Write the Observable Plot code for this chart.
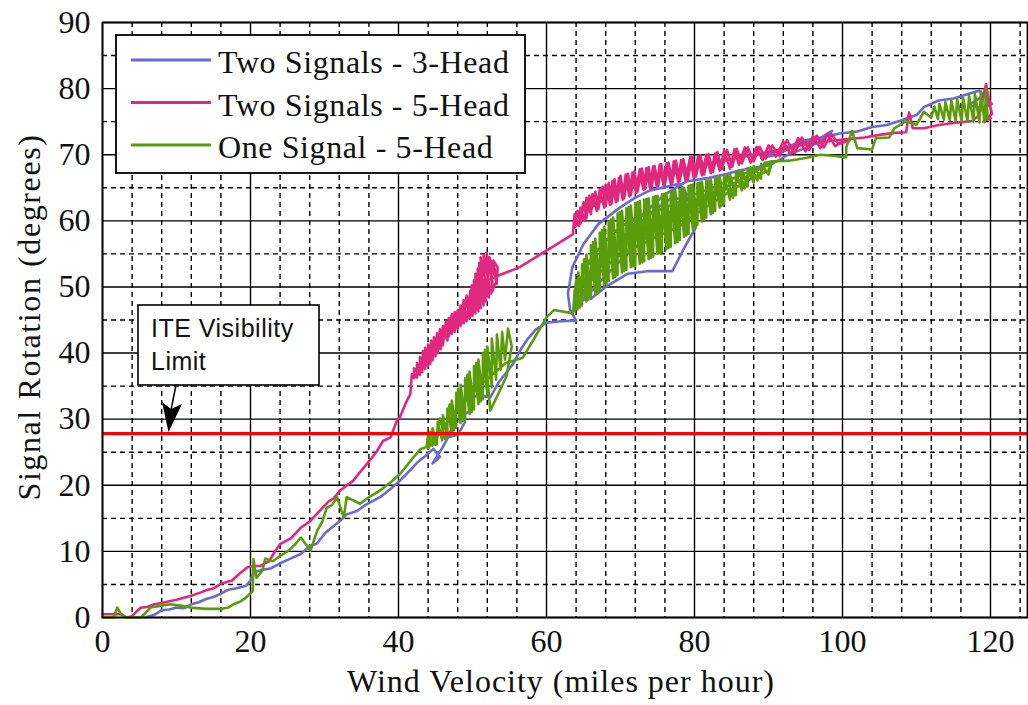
<!DOCTYPE html>
<html><head><meta charset="utf-8">
<script src="https://cdn.jsdelivr.net/npm/d3@7"></script>
<script src="https://cdn.jsdelivr.net/npm/@observablehq/plot@0.6"></script>
<style>body{margin:0;background:#fff;} #chart svg{display:block;}</style>
</head><body><div id="chart"></div>
<script>
const xMajor = [0,20,40,60,80,100,120];
const xMinor = [4,8,12,16,24,28,32,36,44,48,52,56,64,68,72,76,84,88,92,96,104,108,112,116,124];
const yMajor = [0,10,20,30,40,50,60,70,80,90];
const yMinor = [5,15,25,35,45,55,65,75,85];
const visibilityLimit = 27.8;
const seriesNames = ["Two Signals - 3-Head","Two Signals - 5-Head","One Signal - 5-Head"];
const seriesColors = ["#6a6ad2","#e0287f","#5a9c0a"];

const blue = [
[5.8,0],[7,0.4],[8,1.1],[9,1.2],[10,1.5],[11,1.4],[12,2],[13,2.3],[14,2.8],[15,3.1],[16,3.6],[17,4.2],[18,4.4],[19.4,4.8],[20,5.6],[20.4,6.8],[21.5,7.2],[22.7,7.4],[24,8.2],[25.4,8.9],[26.8,9.6],[28,10.8],[29,11.2],[29.4,11.8],[30.2,12.9],[31,13.6],[32.1,14.6],[33,15.6],[34.4,16.1],[35.5,17],[36.5,17.6],[37.5,18.2],[39,19.5],[40.2,20.7],[41.5,22.2],[42.5,23.4],[43.5,24.3],[44.7,25.5],[45.6,24.3],[44.6,23.3],[46,25.8],[47.4,28.7],[46.3,27.2],[48,27.6],[49,29.6],[48.2,30.4],[50,31.4],[49.4,33.2],[51,33.6],[52.4,33.3],[53.5,35.5],[55.5,38.4],[56.5,40.5],[57.3,41.9],[58.5,43.5],[60,44.6],[62,44.8],[64,44.9],
[63.2,46.5],[62.9,49],[63.5,53],[65,56.5],[67,59.5],[69.9,62],[72,63.5],[74,64.6],[76,65.1],[78,65.6],[79,64],[77,61],[74,58],[70,54],[67,50.5],[65,48],[66,51.2],[69,55.3],[72,59],[75,62],[77,63.5],[79.5,63],[80.2,59],[78.9,56.5],[77,52.4],[73.9,52.4],[71,52],[68,50],[66,48.2],[65.2,49.5],[67,53],[70,57],[73,61],[76,64],[79,66],[82,66.5],[84.3,67.1],[86,67.6],[88,68],[90.5,68.6],[92.8,70.1],[95,71],[97,72],[98.6,73.6],[97,72.5],[94,71.5],[91,70],[89,69.5],[92,71],[95,72.2],[98,72.8],[99.6,73.2],[102,73.5],[104,74.2],[106,74.5],[108,75.2],[110,76],[111,77.2],[113,78.2],[115,78.5],[117,79.2],[118.5,79.7],[119.5,78.5],[120.2,77.7],[119,77],[117,77.5],[119.5,79.2]
];

const pink = [
[0,0.5],[1.5,0.5],[2.6,0.5],[3.2,0],[4,0.2],[4.6,0.9],[5.2,1.5],[6,1.6],[7,2],[8,2.2],[9.2,2.5],[10,2.7],[11,3],[12,3.3],[13.3,3.8],[14.2,4.2],[15,4.4],[16,5.1],[17.5,5.6],[18.7,6.8],[19.6,7.6],[20.5,7.8],[21.3,7.8],[22.5,8.5],[23.2,9.8],[24,11.1],[25.5,12],[26.8,13.6],[28,14.5],[29,15.7],[30.5,17.5],[31.2,18],[32.1,19.2],[33.9,20.7],[34.8,22],[35.7,23.2],[37,25],[37.9,26.7],[38.9,27.2],[39.8,29.8],[40.2,30.3],[41,32.5],[41.6,33.8],
[41.8,36.8],[42.5,36.3],[42.5,38.5],[43.2,37.1],[43.3,40.3],[44,38],[44,41.3],[44.6,38.9],[44.8,42.4],[45.3,40],[45.6,43.6],[46,41.2],[46.4,44.7],[46.8,42.5],[47.2,45.9],[47.6,43.2],[48,46.5],[48.4,44.1],[48.8,48],[49.2,44.8],[49.7,49.4],[50,45.6],[50.2,51],[50.8,46.3],[50.7,52.8],[51.5,47.2],[51.1,54.5],[52.2,48.4],[51.9,55.2],[52.8,49.5],[52.3,54.5],[53.3,50.5],[52.8,54],[53.4,53],[53.3,51],
[52.5,49],[51.5,54.8],[51.8,47.8],[50.9,53.6],[51.1,46.8],[50.4,52],[50.4,46],[49.9,50.2],[49.6,45.2],[49.2,48.7],[48.8,44.5],[48.4,47.2],[48,43.7],[47.6,46.2],[47.2,42.9],[46.8,45.3],[46.6,41.9],[46,44.1],[45.7,40.6],[45.2,43],[45,39.5],[44.4,41.9],[44.3,38.4],[43.6,40.8],[43.6,37.6],[42.9,39.4],[42.9,36.7],[42.1,37.7],[42.1,36.2],
[44,39.5],[46,42.8],[48,45.5],[50,48.3],[51.5,51],[53,51.5],
[56.4,53],[60,55.5],[63.6,58],
[63.6,58.5],[63.8,61],[64.4,59.2],[64.6,62],[65.2,60],[65.4,63.5],[66,61],[66.2,64],[66.8,61.5],[67.2,64.7],[67.8,62],[68,65.5],[68.6,62.4],[68.9,66],[69.4,62.8],[69.8,66.5],[70.3,63.2],[70.7,67],[71.2,63.7],[71.6,67.3],[72.1,64.2],[72.6,67.8],[73.1,64.7],[73.5,68],[74,64.9],[74.4,68.2],[74.9,65.2],[75.3,68.5],[75.8,65.4],[76.2,68.7],[76.8,65.6],[77.2,69],[77.8,65.9],[78.2,69.2],[78.8,66.1],[79.4,69.6],[79.9,66.5],[80.5,69.8],[81,66.9],[81.6,70],[82.2,67.2],[82.8,70.2],[83.4,67.6],[84,70.6],[84.8,67.9],[85.4,70.8],[86,68.5],[86.8,71.1],[87.6,68.8],[88.4,71.2],[89.2,69.2],[90,71.4],[91,69.7],[92,72],[93,70],[94,72.5],[95,70.5],[96,72.8],[97,71],[98,73.2],[99,71.3],[100,72],[101,72.2],
[99.5,71.6],[98.5,73.1],[97.5,71.1],[96.5,72.9],[95.5,70.7],[94.5,72.6],[93.5,70.2],[92.5,72.2],[91.5,69.8],[90.5,71.4],[89.6,69.4],[88.8,71.2],[88,69],[87.2,71.1],[86.4,68.7],[85.7,70.9],[85.1,68.2],[84.4,70.7],[83.7,67.8],[83.1,70.4],[82.5,67.4],[81.9,70.1],[81.3,67],[80.8,69.9],[80.2,66.7],[79.7,69.7],[79.1,66.3],[78.5,69.3],[78,66],[77.5,69.1],[77,65.7],[76.5,68.8],[76,65.5],[75.5,68.6],[75.1,65.3],[74.6,68.3],[74.2,65],[73.8,68.1],[73.3,64.8],[72.9,67.9],[72.3,64.4],[71.9,67.5],[71.4,63.9],[71,67.1],[70.5,63.4],[70,66.8],[69.6,63],[69.2,66.3],[68.8,62.6],[68.4,65.7],[68,62.2],[67.6,65.2],[67,61.8],[66.6,64.4],[66,61.3],[65.8,63.8],[65.4,60.4],[65,62.8],[64.6,59.6],[64.2,61.5],[63.8,59],
[66,62],[70,64.8],[74,66.5],[78,67.6],[82,68.6],[86,69.6],[90,70.4],[95,71.6],[100,72.3],[101,72.4],
[103,72.6],[105,73],[107,73.3],[108.6,73.4],[109,76.4],[109.5,74],[111,74],[113,74.5],[115,74.8],[117.5,75.1],[118.5,76],[119.4,80.7],[119.8,78],[120.2,76.2],[119,75],[120,75.5]
];

const green = [
[0,0],[1.5,0],[2,1.5],[2.5,0.5],[3.2,0],[5.2,0],[6.5,1.5],[8,1.8],[9.2,2],[10.5,1.8],[11.9,1.5],[14,1.3],[16,1.3],[17,1.5],[17.7,2],[18.6,2.4],[19.4,3],[20.3,4],[20.4,8.8],[20.8,6],[21.6,7.1],[22,8.9],[23,8.5],[24,9.3],[25,10],[26,11],[26.8,12.1],[28.1,10.1],[29,13.1],[29.7,14.5],[30.3,16.6],[31,17],[31.7,18.2],[32.6,15.1],[33,18.2],[34.8,17.2],[36,18.2],[37.5,19.2],[39,20.5],[40.2,21.7],[41,22.8],[42,24.2],[43,25.5],
[43.8,25.8],[44,27.6],[44.6,26],[44.6,28.6],[45.2,26.3],[45.3,29.6],[45.9,26.8],[46,30.6],[46.6,27.3],[46.6,31.6],[47.2,28],[47.2,32.8],[47.8,28.7],[47.8,34],[48.4,29.4],[48.4,35.2],[49,30],[49,36.2],[49.6,30.8],[49.6,37.2],[50.2,31.5],[50.2,38],[50.8,32.3],[50.8,39],[51.4,33],[51.4,40],[52,33.8],[52,41],[52.6,34.8],[52.6,42.2],[53.2,36],[53.3,42.8],[53.8,37.5],[54,43.2],[54.4,39],[54.8,43.7],
[55.3,41],[54.6,36.5],[53.3,33.4],[52.4,31.3],
[51.7,40.5],[51.1,32.7],[50.5,38.5],[49.9,31.1],[49.3,36.7],[48.7,29.7],[48.1,34.6],[47.5,28.3],[46.9,32.2],[46.3,27],[45.6,30.1],[45,26.1],[44.3,28.1],[44,25.6],
[46,28.5],[48,31.5],[50,34],[52.4,36.5],[54.5,38.5],[56.8,39.3],[58.5,42.5],[60,45.4],[61,46.5],
[63.6,46],[63.8,49.5],[64.2,46.6],[64.3,52.2],[64.8,47.2],[64.8,53.4],[65.4,47.8],[65.4,54.9],[66,48.5],[66,56.3],[66.6,49],[66.6,57.3],[67.2,49.5],[67.2,58.2],[67.8,50.2],[67.8,59.1],[68.4,50.9],[68.4,59.8],[69,51.3],[69,60.5],[69.6,51.8],[69.6,61.1],[70.2,52.2],[70.2,61.5],[70.8,52.6],[70.8,61.9],[71.4,53],[71.4,62.3],[72,53.2],[72,62.7],[72.6,53.5],[72.6,63],[73.2,53.9],[73.2,63.2],[73.8,54.2],[73.8,63.4],[74.4,54.6],[74.4,63.6],[75,55],[75,63.8],[75.6,55.3],[75.6,64],[76.2,55.7],[76.2,64.2],[76.8,56.1],[76.8,64.4],[77.4,56.6],[77.4,64.6],[78,57.1],[78,64.8],[78.6,57.6],[78.6,65],[79.2,58],[79.2,65.3],[79.8,58.6],[79.8,65.5],[80.4,59.4],[80.4,65.7],[81,59.9],[81,65.9],[81.6,60.5],[81.6,66],[82.2,61],[82.2,66.2],[82.8,61.5],[82.8,66.4],[83.4,62],[83.4,66.6],[84,62.6],[84,66.8],[84.8,63.2],[84.8,67],[85.6,63.9],[85.6,67.4],[86.4,64.6],[86.4,67.7],[87.2,65.2],[87.2,68],[88,65.8],[88,68.3],[89,66.4],[89,68.6],[90,67],[90.5,69],
[89.5,68.8],[88.5,66.1],[87.6,68.1],[86.8,64.9],[86,67.5],[85.2,63.5],[84.4,66.9],[83.7,62.3],[83.1,66.5],[82.5,61.2],[81.9,66.1],[81.3,60.2],[80.7,65.8],[80.1,59],[79.5,65.4],[78.9,57.8],[78.3,64.9],[77.7,56.8],[77.1,64.5],[76.5,55.9],[75.9,64.1],[75.3,55.1],[74.7,63.7],[74.1,54.4],[73.5,63.3],[72.9,53.7],[72.3,62.8],[71.7,53.1],[71.1,62.1],[70.5,52.4],[69.9,61.3],[69.3,51.5],[68.7,60.2],[68.1,50.5],[67.5,58.6],[66.9,49.2],[66.3,56.8],[65.7,48.1],[65.1,54.2],[64.5,46.9],[64,51],[63.6,46.2],
[68,55],[74,60],[80,63],[86,66],[90.5,69],
[90,67.6],[88,66.6],[86,65.3],[84,63.9],[82,62.4],[80,60.9],[78,59.2],[76,58.2],[74,57.1],[72,56],[70,54.9],[68,53.1],[66,50.9],[64,47.8],
[64,49.9],[66,54.3],[68,57],[70,59.1],[72,60.3],[74,61.2],[76,62],[78,62.9],[80,64],[82,64.8],[84,65.8],[86,66.8],[88,67.7],[90,68.4],[90.5,69],
[92.8,69.1],[95,69.5],[97,70],[99,69.8],[100.5,69.6],[100.5,71.1],[101.3,73.6],[102,71],[104,70.8],[104.5,72.5],[106.3,72.6],[107,74],[108.6,75.1],[110,74.5],[111,76.5],[112,75.6],
[112.4,77.3],[112.9,75.4],[113.1,77.7],[113.7,75.3],[113.9,78],[114.5,75.2],[114.7,78.2],[115.3,75.1],[115.5,78.4],[116.1,75.1],[116.3,78.6],[116.9,75],[117.1,78.9],[117.7,75],[117.9,79.2],[118.5,74.9],[118.7,79.5],[119.2,74.9],[119.4,79.9],[119.6,75.5]
];

const toRows = (arr) => arr.map(([x, y]) => ({x, y}));
const series = [blue, pink, green].map(toRows);

const chart = Plot.plot({
  width: 1028,
  height: 705,
  marginLeft: 102,
  marginRight: 1,
  marginTop: 22,
  marginBottom: 88,
  style: {fontFamily: "Liberation Serif", background: "#fff", overflow: "visible"},
  x: {domain: [0, 125]},
  y: {domain: [0, 90]},
  marks: [
    Plot.ruleX(xMinor, {stroke: "#000", strokeWidth: 1.4, strokeDasharray: "5,4"}),
    Plot.ruleY(yMinor, {stroke: "#000", strokeWidth: 1.4, strokeDasharray: "5,4"}),
    Plot.ruleX(xMajor, {stroke: "#000", strokeWidth: 1.4}),
    Plot.ruleY(yMajor, {stroke: "#000", strokeWidth: 1.4}),
    ...series.map((rows, i) => Plot.line(rows, {x: "x", y: "y", stroke: seriesColors[i], strokeWidth: 2.6, strokeLinejoin: "round"})),
    Plot.ruleY([visibilityLimit], {stroke: "#ff0000", strokeWidth: 3.2}),
    Plot.frame({stroke: "#000", strokeWidth: 1.8}),
    Plot.axisX(xMajor, {tickSize: 0, tickPadding: 12, fontSize: 32, label: null, fill: "#111"}),
    Plot.axisY(yMajor, {tickSize: 0, tickPadding: 12, fontSize: 32, label: null, fill: "#111"})
  ]
});

const svg = d3.select(chart);
// legend box
const lg = svg.append("g").attr("text-anchor", "start");
lg.append("rect").attr("x", 116).attr("y", 35).attr("width", 409).attr("height", 138)
  .attr("fill", "#fff").attr("stroke", "#000").attr("stroke-width", 1.8);
seriesNames.forEach((name, i) => {
  const yy = 60 + i * 42.5;
  lg.append("line").attr("x1", 131).attr("x2", 211).attr("y1", yy).attr("y2", yy)
    .attr("stroke", seriesColors[i]).attr("stroke-width", 3.2);
  lg.append("text").attr("x", 218).attr("y", yy + 13).text(name)
    .attr("text-anchor", "start").attr("letter-spacing", 0.6)
    .attr("font-family", "Liberation Serif").attr("font-size", 32).attr("fill", "#111");
});
// ITE annotation
const an = svg.append("g").attr("text-anchor", "start");
an.append("rect").attr("x", 138).attr("y", 305).attr("width", 181).attr("height", 80)
  .attr("fill", "#fff").attr("stroke", "#000").attr("stroke-width", 1.6);
an.append("text").attr("x", 151).attr("y", 337).text("ITE Visibility")
  .attr("text-anchor", "start").attr("letter-spacing", 0.5)
  .attr("font-family", "Liberation Sans").attr("font-size", 25).attr("fill", "#111");
an.append("text").attr("x", 151).attr("y", 370).text("Limit")
  .attr("text-anchor", "start").attr("letter-spacing", 0.5)
  .attr("font-family", "Liberation Sans").attr("font-size", 25).attr("fill", "#111");
an.append("line").attr("x1", 176).attr("y1", 385).attr("x2", 171).attr("y2", 410)
  .attr("stroke", "#000").attr("stroke-width", 1.5);
an.append("path").attr("d", "M168.5,432 L162,402 L171,409 L182,404 Z").attr("fill", "#000");
// axis titles
svg.append("text").attr("x", 561).attr("y", 692).attr("text-anchor", "middle").attr("letter-spacing", 1)
  .attr("font-family", "Liberation Serif").attr("font-size", 32).attr("fill", "#111")
  .text("Wind Velocity (miles per hour)");
svg.append("text").attr("transform", "translate(40,317) rotate(-90)").attr("text-anchor", "middle").attr("letter-spacing", 1.6)
  .attr("font-family", "Liberation Serif").attr("font-size", 32).attr("fill", "#111")
  .text("Signal Rotation (degrees)");

document.getElementById("chart").appendChild(chart);
</script>
</body></html>
